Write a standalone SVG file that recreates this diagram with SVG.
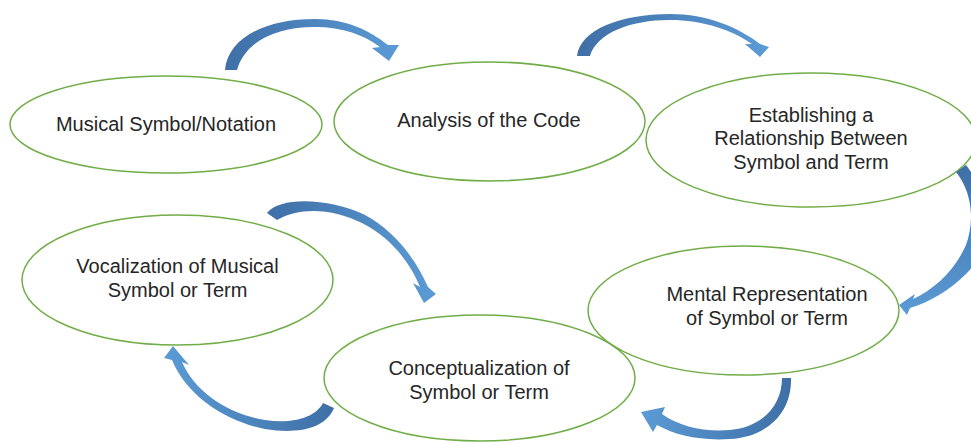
<svg xmlns="http://www.w3.org/2000/svg" width="971" height="442" viewBox="0 0 971 442">
<style>
.node ellipse{fill:none;stroke:#70AD47;stroke-width:1.5}
.node text{font-family:"Liberation Sans",Arial,sans-serif;font-size:20px;fill:#262626;text-anchor:middle}
.arrow{stroke:none}
</style>
<defs>
<linearGradient id="g1" x1="0" y1="0" x2="1" y2="0"><stop offset="0" stop-color="#3f6fa6"/><stop offset="1" stop-color="#5b9bd5"/></linearGradient>
<linearGradient id="g2" x1="0" y1="0" x2="0" y2="1"><stop offset="0" stop-color="#3f6fa6"/><stop offset="1" stop-color="#5b9bd5"/></linearGradient>
<linearGradient id="g3" x1="1" y1="0" x2="0" y2="0"><stop offset="0" stop-color="#3f6fa6"/><stop offset="1" stop-color="#5b9bd5"/></linearGradient>
</defs>
<g id="n1" class="node"><ellipse cx="166" cy="124.5" rx="156" ry="48.5"/><text x="166" y="131">Musical Symbol/Notation</text></g>
<g id="n2" class="node"><ellipse cx="489.5" cy="121.5" rx="155.5" ry="59.5"/><text x="489" y="127">Analysis of the Code</text></g>
<g id="n3" class="node"><ellipse cx="811" cy="140" rx="165" ry="67"/><text x="811" y="122">Establishing a</text><text x="811" y="145">Relationship Between</text><text x="811" y="169">Symbol and Term</text></g>
<g id="n4" class="node"><ellipse cx="743.5" cy="310.5" rx="155.5" ry="64.5"/><text x="767" y="301">Mental Representation</text><text x="767" y="325">of Symbol or Term</text></g>
<g id="n5" class="node"><ellipse cx="479.5" cy="378" rx="155.5" ry="63"/><text x="479" y="375">Conceptualization of</text><text x="479" y="399">Symbol or Term</text></g>
<g id="n6" class="node"><ellipse cx="177.5" cy="280" rx="155.5" ry="65"/><text x="177.5" y="273">Vocalization of Musical</text><text x="177.5" y="297">Symbol or Term</text></g>
<g id="connectors">
<path class="arrow" fill="url(#g1)" d="M225,70 C228,38 265,19 315,19 C347,19 370,31 388,45 L399,45 L389,61 L372,48 L380,47 C364,35 343,27 315,27 C275,27 245,42 237,70 Z"/>
<path class="arrow" fill="url(#g1)" d="M577,56 C580,30 620,14 670,14 C707,14 738,27 760,44 L769,47 L760,57 L745,44 L752,44 C732,30 703,20 670,20 C630,20 597,33 590,56 Z"/>
<path class="arrow" fill="url(#g2)" d="M956,172 L966,165 C990,195 992,250 966,274 C950,290 930,302 910,308 L907,315 L899,305 L915,294 L913,299 C935,289 955,270 966,245 C975,220 972,192 956,172 Z"/>
<path class="arrow" fill="url(#g1)" d="M267,213 C280,196 330,198 365,215 C396,232 416,260 428,287 L436,294 L424,303 L413,283 L420,287 C410,262 390,237 362,223 C335,209 300,206 277,220 Z"/>
<path class="arrow" fill="url(#g3)" d="M334,408 C325,430 295,434 265,429 C225,421 187,396 172,360 L164,358 L173,346 L189,365 L182,362 C195,392 228,414 265,420 C292,424 315,418 323,403 Z"/>
<path class="arrow" fill="url(#g3)" d="M791,378 C792,412 768,437 730,439 C700,441 675,435 657,425 L653,432 L641,412 L665,407 L662,414 C680,427 705,432 730,430 C763,427 782,405 782,378 Z"/>
</g>
</svg>
